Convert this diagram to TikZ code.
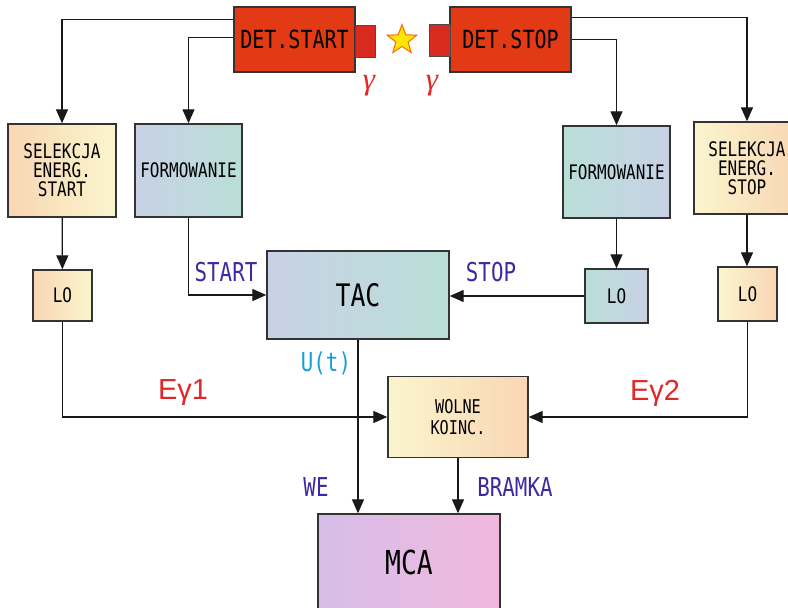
\documentclass[tikz,border=0pt]{standalone}
\usepackage{fontspec}
\usetikzlibrary{arrows.meta,shapes.geometric}
\newfontfamily\gothic[FakeStretch=0.8]{DejaVu Sans Mono}
\newfontfamily\gamfont{Liberation Serif}
\newfontfamily\arialfont{Liberation Sans}
\definecolor{detred}{RGB}{226,58,20}
\definecolor{gunred}{RGB}{216,42,30}
\definecolor{peach}{RGB}{249,214,180}
\definecolor{cream}{RGB}{250,245,205}
\definecolor{greyblue}{RGB}{200,210,230}
\definecolor{seagreen}{RGB}{185,222,215}
\definecolor{lilac}{RGB}{214,190,232}
\definecolor{rosepink}{RGB}{242,184,222}
\definecolor{sigblue}{RGB}{60,42,160}
\definecolor{sigcyan}{RGB}{20,160,215}
\definecolor{sigred}{RGB}{225,40,40}
\newcommand{\biggam}{{\gamfont\itshape\fontsize{31}{31}\selectfont γ}}

\begin{document}
\begin{tikzpicture}[x=1pt,y=-1pt,>={Triangle[length=14pt,width=12pt]},line width=1.2pt]
        \useasboundingbox (0,0) rectangle (788,608);
        \begin{scope}[every node/.style={rectangle,draw=black!80,line width=1.4pt,inner sep=0pt,align=center,
                      font=\gothic\fontsize{20}{19}\selectfont}]
            \node (detstart) [fill=detred, minimum width=121pt, minimum height=65pt, font=\gothic\fontsize{25}{26}\selectfont] at (294.5,39.5) {DET.START};
            \node (detstop) [fill=detred, minimum width=121pt, minimum height=65pt, font=\gothic\fontsize{25}{26}\selectfont] at (510.5,39.5) {DET.STOP};
            \node (gunA) [fill=gunred, draw=black!70, line width=1pt, minimum width=20pt, minimum height=32pt] at (365,41) {};
            \node (gunB) [fill=gunred, draw=black!70, line width=1pt, minimum width=21pt, minimum height=32pt] at (439.5,40) {};
            \node (selA) [left color=peach, right color=cream, minimum width=108pt, minimum height=93pt] at (62,170.5) {SELEKCJA\\ENERG.\\START};
            \node (formA) [left color=greyblue, right color=seagreen, minimum width=107pt, minimum height=93pt] at (188.5,170.5) {FORMOWANIE};
            \node (formB) [left color=seagreen, right color=greyblue, minimum width=107pt, minimum height=92pt] at (616.5,172) {FORMOWANIE};
            \node (selB) [left color=cream, right color=peach, minimum width=106pt, minimum height=92pt] at (747,168) {SELEKCJA\\ENERG.\\STOP};
            \node (loA) [left color=peach, right color=cream, minimum width=59pt, minimum height=51pt] at (62.5,295.5) {LO};
            \node (loB) [left color=seagreen, right color=greyblue, minimum width=63pt, minimum height=54pt] at (616.5,296) {LO};
            \node (loC) [left color=cream, right color=peach, minimum width=59pt, minimum height=54pt] at (747.5,294) {LO};
            \node (tac) [left color=greyblue, right color=seagreen, minimum width=182pt, minimum height=88pt, font=\gothic\fontsize{31}{32}\selectfont] at (358,295) {TAC};
            \node (coinc) [left color=cream, right color=peach, minimum width=140pt, minimum height=81pt, font=\gothic\fontsize{19}{21}\selectfont] at (458,417) {WOLNE\\KOINC.};
            \node (mca) [left color=lilac, right color=rosepink, minimum width=182pt, minimum height=96pt, font=\gothic\fontsize{33}{34}\selectfont] at (409,562) {MCA};
        \end{scope}
        \node (star) [star, star points=5, star point ratio=2.4, minimum size=31pt, inner sep=0pt, fill=yellow!90!orange, draw=orange!80!red, line width=1pt] at (402,40) {};

        \begin{scope}[every node/.style={inner sep=0pt, text=sigblue, font=\gothic\fontsize{26}{26}\selectfont}]
            \node (gamA) [text=sigred] at (369,86) {\biggam};
            \node (gamB) [text=sigred] at (432,86) {\biggam};
            \node (lstart) at (226,272) {START};
            \node (lstop) at (491,272) {STOP};
            \node (lut) [text=sigcyan] at (326,363) {U(t)};
            \node (leg1) [text=sigred, font=\arialfont\fontsize{29}{29}\selectfont] at (183,393) {Eγ1};
            \node (leg2) [text=sigred, font=\arialfont\fontsize{29}{29}\selectfont] at (655,393) {Eγ2};
            \node (lwe) at (316,487) {WE};
            \node (lbramka) at (515,487) {BRAMKA};
        \end{scope}

        \begin{scope}[every path/.style={draw=black!90, line width=1.3pt}]
            \draw [->] ([yshift=-13pt]detstart.north west) -| (selA.north);
            \draw [->] ([yshift=-31pt]detstart.north west) -| (formA.north);
            \draw [->] ([yshift=-11pt]detstop.north east) -| (selB.north);
            \draw [->] ([yshift=-33pt]detstop.north east) -| (formB.north);
            \draw [->] (selA) -- (loA);
            \draw [->] (formB) -- (loB);
            \draw [->] (selB.south) -- (selB.south |- loC.north);
            \draw [->] (formA.south) |- (tac.west);
            \draw [->] (loB.west) -- (loB.west -| tac.east);
            \draw [->] (loA.south) |- (coinc.west);
            \draw [->] (loC.south) |- (coinc.east);
            \draw [->] (tac.south) -- (tac.south |- mca.north);
            \draw [->] (coinc.south) -- (coinc.south |- mca.north);
        \end{scope}
    \end{tikzpicture}
\end{document}
